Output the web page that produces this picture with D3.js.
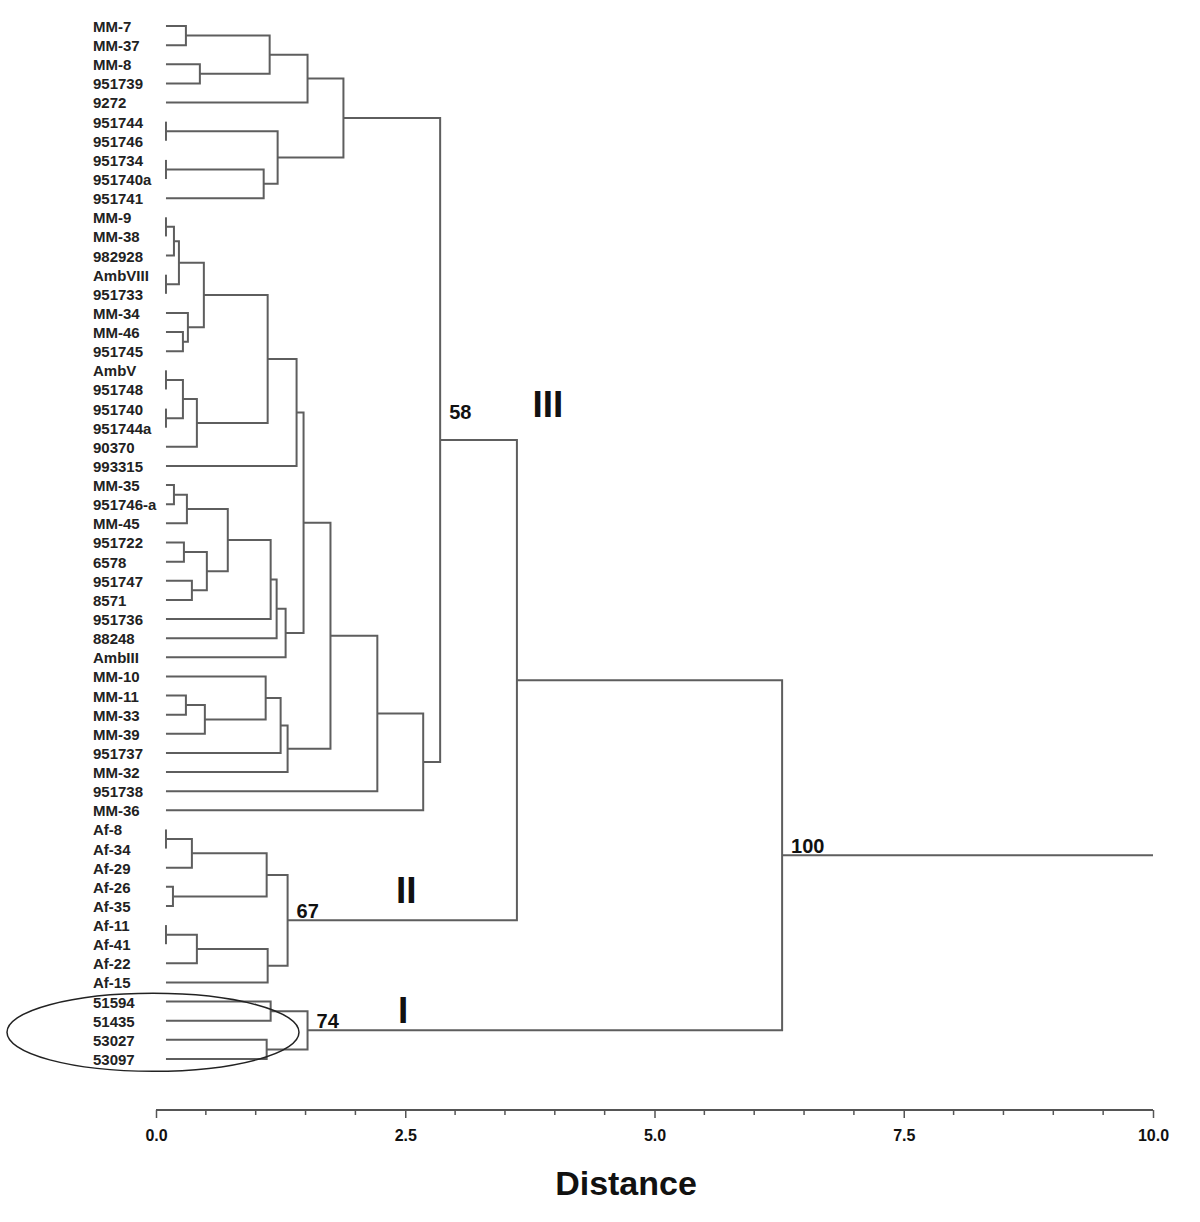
<!DOCTYPE html>
<html><head><meta charset="utf-8">
<script src="https://cdn.jsdelivr.net/npm/d3@7"></script>
<style>body{margin:0;background:#fff}</style>
</head><body><svg id="c" width="1200" height="1222"></svg>
<script>
// ---------------- DATA ----------------
const leaves = ["MM-7","MM-37","MM-8","951739","9272","951744","951746","951734","951740a","951741",
"MM-9","MM-38","982928","AmbVIII","951733","MM-34","MM-46","951745","AmbV","951748","951740","951744a",
"90370","993315","MM-35","951746-a","MM-45","951722","6578","951747","8571","951736","88248","AmbIII",
"MM-10","MM-11","MM-33","MM-39","951737","MM-32","951738","MM-36",
"Af-8","Af-34","Af-29","Af-26","Af-35","Af-11","Af-41","Af-22","Af-15",
"51594","51435","53027","53097"];

// merge id, child A, child B, distance
const mergeIds   = ["m1","m2","m3","m4","m5","m6","m7","m8","m9","m10","m11","m12","m13","m14","m15","m16","m17","m18","m19","m20","m21","m22","m23","m24","m25","m26","m27","m28","m29","m30","m31","m32","m33","m34","m35","m36","m37","m38","m39","m40","m41","m42","m43","m44","m45","m46","m47","m48","m49","m50","m51","m52","m53","m54"];
const mergeLeft  = ["MM-7","MM-8","m1","m3","951744","951734","m6","m5","m4","MM-9","m10","AmbVIII","m11","MM-46","MM-34","m13","AmbV","951740","m17","m19","m16","m21","MM-35","m23","951722","951747","m25","m24","m28","m29","m30","m22","MM-11","m33","MM-10","m35","m36","m32","m38","m39","m9","Af-8","m42","Af-26","m43","Af-11","m46","m47","m45","51594","53027","m50","m41","m53"];
const mergeRight = ["MM-37","951739","m2","9272","951746","951740a","951741","m7","m8","MM-38","982928","951733","m12","951745","m14","m15","951748","951744a","m18","90370","m20","993315","951746-a","MM-45","6578","8571","m26","m27","951736","88248","AmbIII","m31","MM-33","MM-39","m34","951737","MM-32","m37","951738","MM-36","m40","Af-34","Af-29","Af-35","m44","Af-41","Af-22","Af-15","m48","51435","53097","m51","m49","m52"];
const mergeDist  = [0.30,0.44,1.14,1.52,0.10,0.10,1.08,1.22,1.88,0.10,0.18,0.10,0.23,0.27,0.32,0.48,0.10,0.10,0.27,0.41,1.12,1.41,0.18,0.31,0.28,0.36,0.51,0.72,1.15,1.21,1.30,1.48,0.30,0.49,1.10,1.25,1.32,1.75,2.22,2.68,2.85,0.10,0.36,0.17,1.11,0.10,0.41,1.12,1.32,1.15,1.11,1.52,3.62,6.28];

const leafDistance = 0.10;
const rootLineEnd = 10.0;

const supportNodes  = ["m41","m49","m52","m54"];
const supportValues = ["58","67","74","100"];

const clusterNames = ["III","II","I"];
const clusterNodes = ["m41","m49","m52"];

const tickMajor = [0, 2.5, 5, 7.5, 10];
const tickMinor = [0.5,1,1.5,2,3,3.5,4,4.5,5.5,6,6.5,7,8,8.5,9,9.5];
const axisTitle = "Distance";

// ---------------- LAYOUT ----------------
const svg = d3.select("#c");
svg.append("rect").attr("width",1200).attr("height",1222).attr("fill","#fff");

const x = d3.scaleLinear().domain([0,10]).range([156,1153]);
const y = d3.scalePoint().domain(leaves).range([26,1059]);

// build tree
const nodes = {};
leaves.forEach(l => nodes[l] = {id:l, dist:leafDistance});
mergeIds.forEach((id,i) => {
  nodes[id] = {id, dist:mergeDist[i], children:[nodes[mergeLeft[i]], nodes[mergeRight[i]]]};
});
const root = d3.hierarchy(nodes[mergeIds[mergeIds.length-1]], d => d.children);
root.eachAfter(n => {
  n.px = x(n.data.dist);
  n.py = n.children ? d3.mean(n.children, c => c.py) : y(n.data.id);
});
const byId = {};
root.each(n => byId[n.data.id] = n);

const line = d3.line();
const g = svg.append("g").attr("fill","none").attr("stroke","#5e5e5e").attr("stroke-width",2);

root.each(n => {
  if (!n.children) return;
  const [a,b] = n.children;
  g.append("path").attr("d", line([[a.px,a.py],[n.px,a.py],[n.px,b.py],[b.px,b.py]]));
});
// root stem
g.append("path").attr("d", line([[root.px,root.py],[x(rootLineEnd),root.py]]));

// leaf labels
svg.append("g").selectAll("text").data(leaves).join("text")
  .attr("x", x(0) - 63).attr("y", d => y(d) + 2)
  .attr("dominant-baseline","middle")
  .attr("font-family","Liberation Sans, Arial, sans-serif")
  .attr("font-weight","bold").attr("font-size",15).attr("fill","#222")
  .text(d => d);

// support values
supportNodes.forEach((id,i) => {
  const n = byId[id];
  const dy = id === "m41" ? -21 : -2;
  svg.append("text").attr("x", n.px + 9).attr("y", n.py + dy)
    .attr("font-family","Liberation Sans, Arial, sans-serif")
    .attr("font-weight","bold").attr("font-size",20).attr("fill","#111")
    .text(supportValues[i]);
});

// cluster labels
const clusterDx = {"m41": 3.93, "m49": 2.51, "m52": 2.48};
const clusterDy = {"m41": -33, "m49": -27, "m52": -17};
clusterNodes.forEach((id,i) => {
  const n = byId[id];
  svg.append("text").attr("x", x(clusterDx[id])).attr("y", n.py + clusterDy[id])
    .attr("text-anchor","middle").attr("dominant-baseline","middle")
    .attr("font-family","Liberation Sans, Arial, sans-serif")
    .attr("font-weight","bold").attr("font-size",37).attr("fill","#111")
    .text(clusterNames[i]);
});

// ellipse around group I
const e1 = byId["51594"], e4 = byId["53097"];
svg.append("ellipse")
  .attr("cx", x(0) - 3).attr("cy", (e1.py + e4.py)/2 + 2)
  .attr("rx", 146).attr("ry", 39)
  .attr("fill","none").attr("stroke","#222").attr("stroke-width",1.5);

// axis
const axisY = 1110;
const ax = svg.append("g").attr("transform",`translate(0,${axisY})`);
ax.call(d3.axisBottom(x).tickValues(tickMajor).tickSize(8).tickPadding(12).tickFormat(d3.format(".1f")));
ax.select(".domain").attr("stroke","#555").attr("stroke-width",2).attr("d", `M${x(0)},0H${x(10)}`);
ax.selectAll(".tick line").attr("stroke","#555").attr("stroke-width",1.5);
ax.selectAll(".tick text")
  .attr("font-family","Liberation Sans Narrow, Arial Narrow, Liberation Sans, sans-serif")
  .attr("font-weight","bold").attr("font-size",16).attr("fill","#111");
ax.selectAll(".minor").data(tickMinor).join("line").attr("class","minor")
  .attr("x1", d => x(d)).attr("x2", d => x(d)).attr("y1",0).attr("y2",5)
  .attr("stroke","#555").attr("stroke-width",1.5);

svg.append("text").attr("x", 626).attr("y", 1186)
  .attr("text-anchor","middle").attr("dominant-baseline","middle")
  .attr("font-family","Liberation Sans, Arial, sans-serif")
  .attr("font-weight","bold").attr("font-size",34).attr("fill","#111")
  .text(axisTitle);
</script></body></html>
